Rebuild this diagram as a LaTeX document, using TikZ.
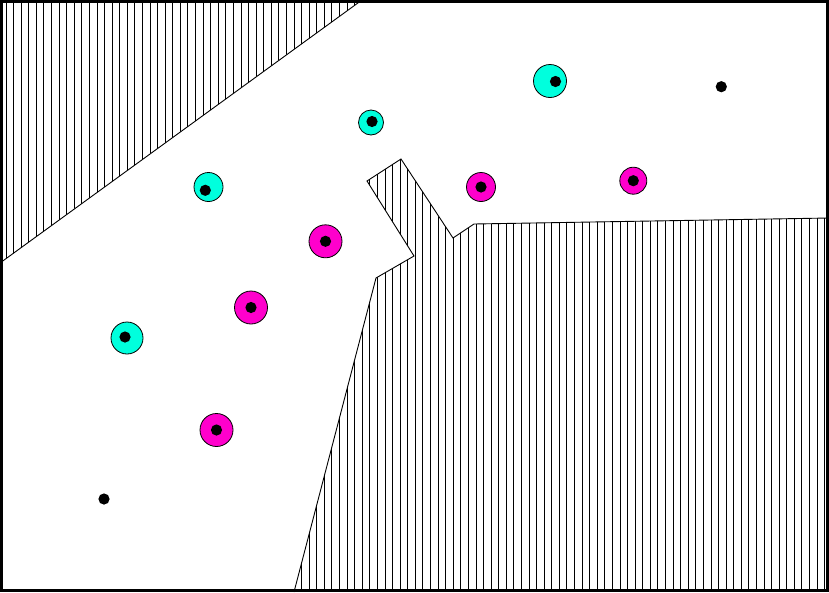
\documentclass[tikz,border=0pt]{standalone}
\definecolor{cy}{RGB}{0,255,221}
\definecolor{mg}{RGB}{255,0,204}
\begin{document}
\begin{tikzpicture}[x=1pt,y=-1pt,
  site/.style={circle,draw=black,line width=0.8pt,inner sep=0pt,minimum size=#1},
  dotc/.style={circle,fill=black,inner sep=0pt,minimum size=11.2pt},
  hatch/.style={line width=0.9pt},
  edge/.style={line width=0.9pt}]
\useasboundingbox (0,0) rectangle (829,592);
\fill[white] (0,0) rectangle (829,592);
% top-left hatched region
\begin{scope}
\clip (0,0) -- (362,0) -- (0,263) -- cycle;
\foreach \i in {0,...,50} \draw[hatch] ({6+7.58*\i},0) -- ({6+7.58*\i},300);
\end{scope}
\draw[edge] (0,263) -- (362,0);
% bottom-right hatched region
\begin{scope}
\clip (294,592) -- (376,278) -- (414,256) -- (367,181) -- (401,159) -- (453,238) -- (474,224) -- (829,218) -- (829,592) -- cycle;
\foreach \i in {0,...,110} \draw[hatch] ({6+7.58*\i},150) -- ({6+7.58*\i},592);
\end{scope}
\draw[edge] (294,592) -- (376,278) -- (414,256) -- (367,181) -- (401,159) -- (453,238) -- (474,224) -- (829,218);
% cyan sites
\node[site=33pt,fill=cy] (c1) at (550,81) {};
\node[dotc] (c1d) at (555.5,81.5) {};
\node[site=25pt,fill=cy] (c2) at (371,122.5) {};
\node[dotc] (c2d) at (372,121.5) {};
\node[site=29pt,fill=cy] (c3) at (208.5,187) {};
\node[dotc] (c3d) at (205.3,190.3) {};
\node[site=32pt,fill=cy] (c4) at (127,338) {};
\node[dotc] (c4d) at (125,337) {};
% magenta sites
\node[site=29pt,fill=mg] (m1) at (481,187) {};
\node[dotc] (m1d) at (481,187) {};
\node[site=27pt,fill=mg] (m2) at (633.3,180.7) {};
\node[dotc] (m2d) at (633.3,180.7) {};
\node[site=33pt,fill=mg] (m3) at (325.5,241.3) {};
\node[dotc] (m3d) at (325.5,241.3) {};
\node[site=33pt,fill=mg] (m4) at (251,307.5) {};
\node[dotc] (m4d) at (251,307.5) {};
\node[site=33pt,fill=mg] (m5) at (216.5,430) {};
\node[dotc] (m5d) at (216.5,430) {};
% lone points
\node[dotc] (p1) at (721.3,86.7) {};
\node[dotc] (p2) at (104,499) {};
% frame
\draw[line width=3pt] (1.5,1.5) rectangle (827.5,590.5);
\end{tikzpicture}
\end{document}
